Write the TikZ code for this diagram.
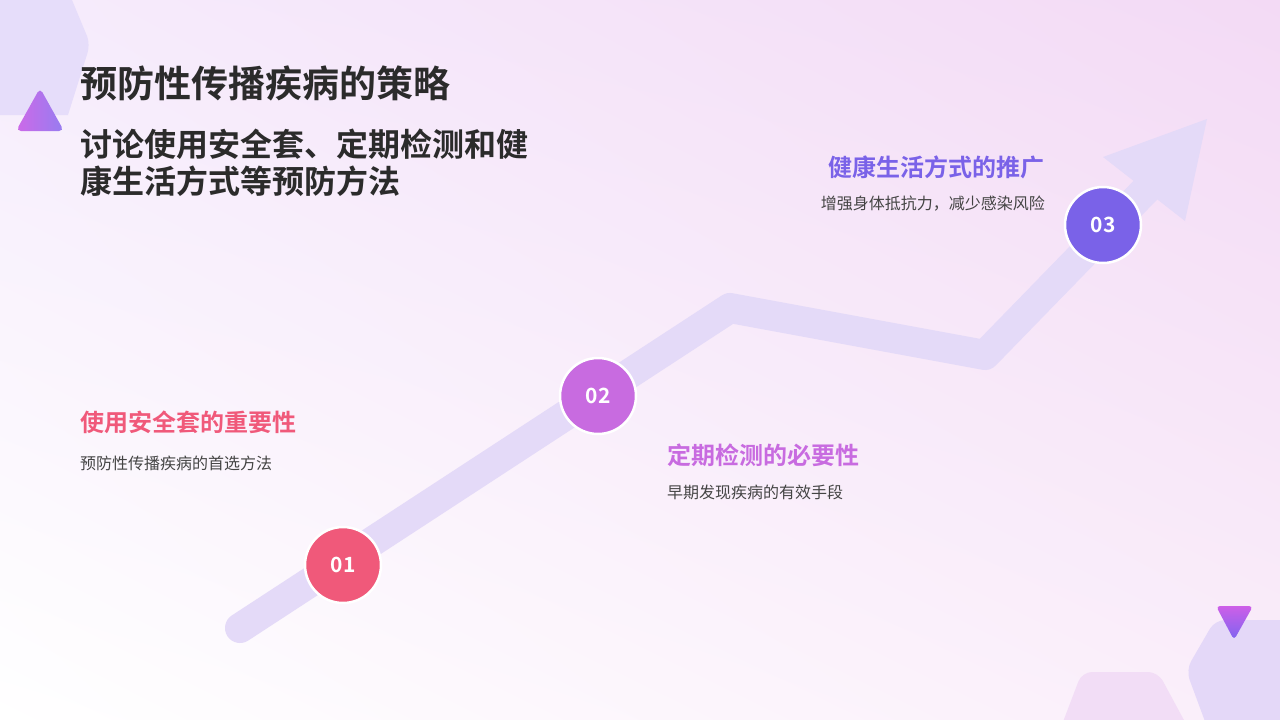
\documentclass[tikz,border=0pt]{standalone}
\usepackage{fontspec}
\setmainfont{Noto Sans CJK SC}
\newfontfamily\cjkb{Noto Sans CJK SC Bold}
\usetikzlibrary{shadings}
\definecolor{pinkc}{HTML}{F0597A}
\definecolor{violc}{HTML}{C86BE0}
\definecolor{bluec}{HTML}{7A62E8}
\definecolor{track}{HTML}{E4DAF8}
\definecolor{txt}{HTML}{2B2B2B}
\definecolor{gray}{HTML}{444444}
\tikzset{
 step circ/.style={circle,draw=white,line width=2.5pt,minimum size=76pt,text=white,font=\cjkb\fontsize{21}{21}\selectfont},
 ttl/.style={anchor=west,text=txt,font=\cjkb\fontsize{37}{40}\selectfont,inner sep=0},
 lab/.style={inner sep=0,font=\cjkb\fontsize{24}{26}\selectfont},
 desc/.style={inner sep=0,text=gray,font=\fontsize{16}{18}\selectfont}
}
\begin{document}
\begin{tikzpicture}[x=1pt,y=-1pt]
\useasboundingbox (0,0) rectangle (1280,720);
\shade[lower left=white,upper right={rgb,255:red,243;green,218;blue,245},upper left={rgb,255:red,246;green,236;blue,252},lower right={rgb,255:red,250;green,238;blue,250}] (0,0) rectangle (1280,720);
% decorations
\fill[color={rgb,255:red,230;green,221;blue,250}] (0,0) -- (72,0) -- (87,36) [rounded corners=8pt]-- (90,45) [sharp corners]-- (68,115) -- (0,115) -- cycle;
\shade[left color={rgb,255:red,205;green,105;blue,232},right color={rgb,255:red,150;green,125;blue,240},rounded corners=5pt] (40,88) -- (64,131) -- (16,131) -- cycle;
\fill[color={rgb,255:red,242;green,221;blue,246},rounded corners=10pt] (1058,735) -- (1082,672) -- (1158,672) -- (1192,735) -- cycle;
\fill[color={rgb,255:red,228;green,216;blue,248},rounded corners=10pt] (1290,620) -- (1215,620) -- (1186,670) -- (1210,735) -- (1290,735) -- cycle;
\shade[top color={rgb,255:red,205;green,95;blue,232},bottom color={rgb,255:red,125;green,100;blue,240},rounded corners=4pt] (1216,606) -- (1253,606) -- (1234,640) -- cycle;
% track
\coordinate (p0) at (240,628);
\coordinate (p1) at (730,308);
\coordinate (p2) at (985,355);
\coordinate (p3) at (1165,170);
\draw[track,line width=30pt,line cap=round,line join=round] (p0) -- (p1) -- (p2) -- (p3);
\fill[track] (1207,119) -- (1185,221) -- (1103,157) -- cycle;
% circles
\node[step circ,fill=pinkc] (c1) at (343,565) {01};
\node[step circ,fill=violc] (c2) at (598,396) {02};
\node[step circ,fill=bluec] (c3) at (1103,225) {03};
% titles
\node[ttl] (t1) at (80,83) {预防性传播疾病的策略};
\node[ttl,font=\cjkb\fontsize{32}{37}\selectfont,text width=480pt,align=left] (t2) at (80,163) {讨论使用安全套、定期检测和健\\康生活方式等预防方法};
% labels
\node[lab,anchor=west,text=pinkc] (l1) at (80,422) {使用安全套的重要性};
\node[desc,anchor=west] (d1) at (80,463) {预防性传播疾病的首选方法};
\node[lab,anchor=west,text=violc] (l2) at (667,455) {定期检测的必要性};
\node[desc,anchor=west] (d2) at (667,492) {早期发现疾病的有效手段};
\node[lab,anchor=east,text=bluec] (l3) at (1045,167) {健康生活方式的推广};
\node[desc,anchor=east] (d3) at (1045,204) {增强身体抵抗力，减少感染风险};
\end{tikzpicture}
\end{document}
